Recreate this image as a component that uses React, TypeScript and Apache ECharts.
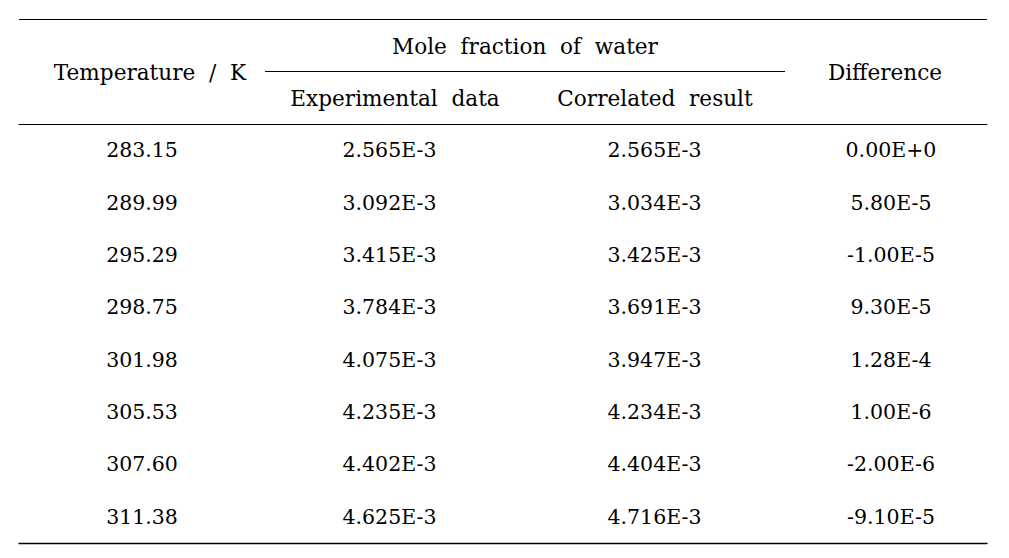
import React, { useEffect, useRef } from "react";
import * as echarts from "echarts";

// ---- data ----
const temperatures = [283.15, 289.99, 295.29, 298.75, 301.98, 305.53, 307.6, 311.38];
const experimental = [2.565e-3, 3.092e-3, 3.415e-3, 3.784e-3, 4.075e-3, 4.235e-3, 4.402e-3, 4.625e-3];
const correlated = [2.565e-3, 3.034e-3, 3.425e-3, 3.691e-3, 3.947e-3, 4.234e-3, 4.404e-3, 4.716e-3];
const difference = [0, 5.8e-5, -1.0e-5, 9.3e-5, 1.28e-4, 1.0e-6, -2.0e-6, -9.1e-5];

const headerGroup = "Mole  fraction  of  water";
const headerTemp = "Temperature  /  K";
const headerExp = "Experimental  data";
const headerCorr = "Correlated  result";
const headerDiff = "Difference";

// ---- layout ----
const W = 1009;
const H = 558;
const GRID_LEFT = 19;
const GRID_RIGHT = 987;
const GRID_TOP = 124;
const GRID_BOTTOM = 543;
const COL_X = [142, 389.5, 654.5, 891]; // pixel centers of columns
const FONT = "DejaVu Serif";
const FS = 20.5;
const HFS = 21.6;
const COLOR = "#000";

const sci = (v: number, d: number) => v.toExponential(d).replace("e", "E");

export default function App() {
  const ref = useRef<HTMLDivElement>(null);
  useEffect(() => {
    if (!ref.current) return;
    const chart = echarts.init(ref.current, undefined, { renderer: "svg" });
    const rows = temperatures.map((_, i) => String(i));
    const columns: { texts: string[] }[] = [
      { texts: temperatures.map((t) => t.toFixed(2)) },
      { texts: experimental.map((v) => sci(v, 3)) },
      { texts: correlated.map((v) => sci(v, 3)) },
      { texts: difference.map((v) => sci(v, 2)) },
    ];
    const series = columns.map((col, ci) => ({
      type: "scatter",
      xAxisIndex: 0,
      symbolSize: 2,
      itemStyle: { color: "rgba(255,255,255,0)", opacity: 1 },
      emphasis: { disabled: true },
      silent: true,
      data: col.texts.map((txt, ri) => ({ value: [COL_X[ci] - GRID_LEFT, ri], name: txt })),
      label: {
        show: true,
        position: "inside",
        formatter: "{b}",
        fontFamily: FONT,
        fontSize: FS,
        color: COLOR,
        opacity: 1,
        textBorderWidth: 0,
      },
    }));
    const text = (str: string, x: number, y: number) => ({
      type: "text",
      x,
      y,
      style: {
        text: str,
        fontFamily: FONT,
        fontSize: HFS,
        fill: COLOR,
        align: "center",
        verticalAlign: "middle",
      },
    });
    const line = (x1: number, y: number, x2: number, w: number) => ({
      type: "line",
      shape: { x1, y1: y, x2, y2: y },
      style: { stroke: "#000", lineWidth: w },
    });
    chart.setOption({
      animation: false,
      backgroundColor: "#fff",
      grid: {
        left: GRID_LEFT,
        right: W - GRID_RIGHT,
        top: GRID_TOP,
        bottom: H - GRID_BOTTOM,
      },
      xAxis: [
        {
          type: "value",
          min: 0,
          max: GRID_RIGHT - GRID_LEFT,
          position: "top",
          axisLine: { show: true, onZero: false, lineStyle: { color: "#000", width: 1.2 } },
          axisTick: { show: false },
          axisLabel: { show: false },
          splitLine: { show: false },
        },
        {
          type: "value",
          min: 0,
          max: GRID_RIGHT - GRID_LEFT,
          position: "bottom",
          axisLine: { show: true, onZero: false, lineStyle: { color: "#000", width: 1.4 } },
          axisTick: { show: false },
          axisLabel: { show: false },
          splitLine: { show: false },
        },
      ],
      yAxis: {
        type: "category",
        data: rows,
        inverse: true,
        show: false,
      },
      series,
      graphic: [
        line(GRID_LEFT, 19.5, GRID_RIGHT, 1.2),
        line(265, 71.5, 785, 1.2),
        text(headerGroup, 525, 46),
        text(headerTemp, 150, 72),
        text(headerDiff, 885, 72),
        text(headerExp, 395, 98),
        text(headerCorr, 655, 98),
      ],
    });
    return () => chart.dispose();
  }, []);
  return (
    <div
      ref={ref}
      style={{ position: "fixed", left: 0, top: 0, width: W, height: H, background: "#fff" }}
    />
  );
}
